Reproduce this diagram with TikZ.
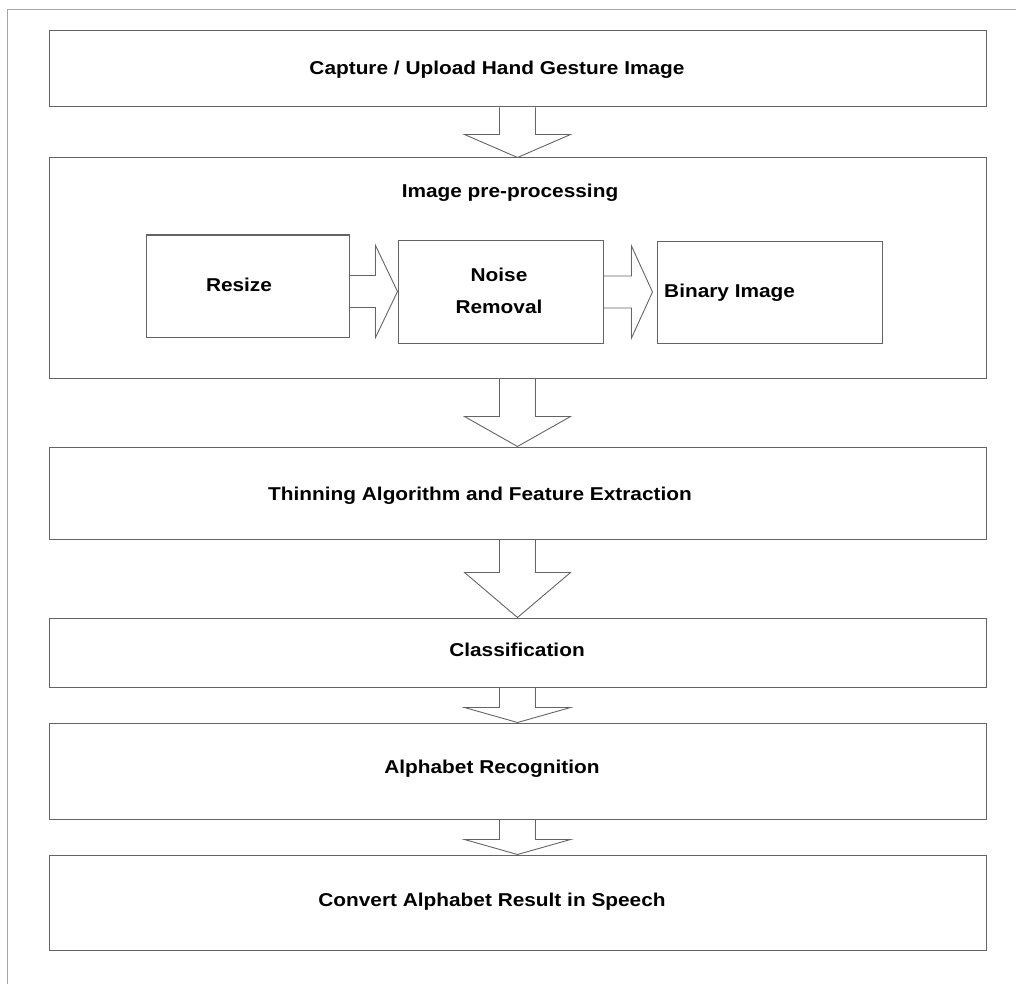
\documentclass[tikz,border=0pt]{standalone}
\usepackage{fontspec}
\setmainfont{Liberation Sans}[FakeStretch=1.12]
\usetikzlibrary{calc}
\definecolor{lc}{RGB}{100,100,100}
\definecolor{fc}{RGB}{165,165,165}
\newcommand\varrow[3]{%
  \draw[arr] ($(#1.south)+(-18,0)$) -- ++(0,#3) -- ++(-35,0) -- (#2.north)
    -- ($(#1.south)+(53,#3)$) -- ++(-35,0) -- ($(#1.south)+(18,0)$);}
\newcommand\harrow[4]{%
  \draw[arr] ($(#1.east |- #2.west)+(0,-16)$) -- ++(#3,0) -- ++(0,-30)
    -- ($(#2.west)+(-#4,0)$) -- ($(#1.east |- #2.west)+(#3,46)$) -- ++(0,-30)
    -- ($(#1.east |- #2.west)+(0,16)$);}
\begin{document}
\begin{tikzpicture}[x=1pt,y=-1pt,
  box/.style={draw=lc, line width=1pt, inner sep=0pt, minimum width=937pt},
  inbox/.style={draw=lc, line width=1pt, inner sep=0pt},
  lbl/.style={font=\fontsize{18.6}{32}\selectfont\bfseries, align=center, inner sep=0pt},
  arr/.style={draw=lc, line width=0.9pt, line join=miter}]
\useasboundingbox (0,0) rectangle (1016,984);
% outer frame (only top and left edges visible)
\draw[fc, line width=1pt] (7,984) -- (7,10) -- (1016,10);
% main boxes
\node[box, minimum height=76pt] (b1) at (517.5,69) {};
\node[box, minimum height=220pt] (b2) at (517.5,268) {};
\node[box, minimum height=92pt] (b3) at (517.5,493) {};
\node[box, minimum height=69pt] (b4) at (517.5,652.5) {};
\node[box, minimum height=96pt] (b5) at (517.5,771) {};
\node[box, minimum height=95pt] (b6) at (517.5,902.5) {};
% labels
\node[lbl] (t1) at (497,70) {Capture / Upload Hand Gesture Image};
\node[lbl] (t2) at (510,193) {Image pre-processing};
\node[lbl] (t3) at (480,496) {Thinning Algorithm and Feature Extraction};
\node[lbl] (t4) at (517,650) {Classification};
\node[lbl] (t5) at (492,769) {Alphabet Recognition};
\node[lbl] (t6) at (492,902) {Convert Alphabet Result in Speech};
% inner boxes
\node[inbox, minimum width=203pt, minimum height=102pt] (rs) at (247.5,286) {};
\node[inbox, minimum width=205pt, minimum height=103pt] (nr) at (500.5,291.5) {};
\node[inbox, minimum width=225pt, minimum height=102pt] (bi) at (769.5,292) {};
\node[lbl] (trs) at (239,285) {Resize};
\node[lbl] (tnr) at (499,291) {Noise\\Removal};
\node[lbl, anchor=west] (tbi) at (664,293) {Binary Image};
% horizontal block arrows
\harrow{rs}{nr}{26}{0}
\harrow{nr}{bi}{28}{4}
% vertical block arrows
\varrow{b1}{b2}{27}
\varrow{b2}{b3}{38}
\varrow{b3}{b4}{33}
\varrow{b4}{b5}{20}
\varrow{b5}{b6}{20}
\end{tikzpicture}
\end{document}
